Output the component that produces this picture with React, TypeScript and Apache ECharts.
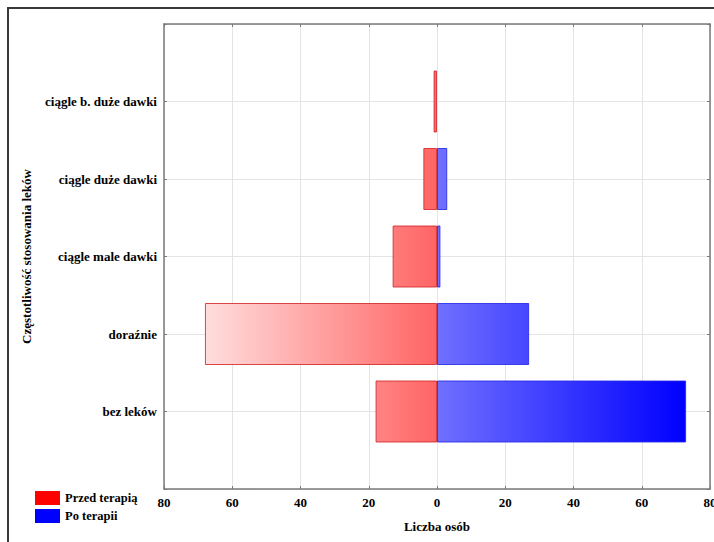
import React, { useEffect, useRef } from "react";
import * as echarts from "echarts";

// Categories bottom to top, as they sit on the vertical axis
const categories = [
  "bez leków",
  "doraźnie",
  "ciągle male dawki",
  "ciągle duże dawki",
  "ciągle b. duże dawki",
];
const przedTerapia = [18, 68, 13, 4, 1];
const poTerapii = [73, 27, 1, 3, 0];
const xTicks = { min: -80, max: 80, step: 20 };

const FONT = "'Liberation Serif', 'Times New Roman', serif";

export default function App() {
  const ref = useRef<HTMLDivElement>(null);

  useEffect(() => {
    if (!ref.current) return;
    document.body.style.margin = "0";
    document.body.style.overflow = "hidden";
    const chart = echarts.init(ref.current, null, { renderer: "svg", width: 714, height: 542 });

    // empty slots at both ends keep the bands spaced like the frame
    const axisData = ["", ...categories, ""];
    const przedData = ["-", ...przedTerapia.map((v) => -v), "-"];
    const poData = [
      "-",
      ...poTerapii.map((v) => (v === 0 ? { value: v, itemStyle: { borderWidth: 0 } } : v)),
      "-",
    ];

    const frameLine = { show: true, onZero: false, lineStyle: { color: "#7a7a7a", width: 1.5 } };
    const innerTick = { show: true, inside: true, length: 3, lineStyle: { color: "#7a7a7a" } };
    const labelFont = { fontFamily: FONT, fontWeight: "bold" as const, fontSize: 13, color: "#000" };

    const base: any = {
      animation: false,
      backgroundColor: "#fff",
      grid: {
        left: 164,
        right: 4,
        top: 24,
        bottom: 53,
        containLabel: false,
        outerBoundsMode: "none",
      },
      legend: {
        orient: "vertical",
        left: 35,
        top: 491,
        itemWidth: 25,
        itemHeight: 14,
        itemGap: 4,
        icon: "rect",
        selectedMode: false,
        padding: 0,
        textStyle: { ...labelFont, fontSize: 12.5, padding: [0, 0, 0, 0] },
        data: [
          { name: "Przed terapią", itemStyle: { color: "#ff0000", borderWidth: 0 } },
          { name: "Po terapii", itemStyle: { color: "#0000ff", borderWidth: 0 } },
        ],
      },
      xAxis: [
        {
          type: "value",
          min: xTicks.min,
          max: xTicks.max,
          interval: xTicks.step,
          position: "bottom",
          axisLine: frameLine,
          axisTick: innerTick,
          axisLabel: { ...labelFont, margin: 7, formatter: (v: number) => String(Math.abs(v)) },
          splitLine: { show: true, lineStyle: { color: "#e4e4e4", width: 1 } },
          name: "Liczba osób",
          nameLocation: "middle",
          nameGap: 31,
          nameTextStyle: labelFont,
        },
        {
          type: "value",
          min: xTicks.min,
          max: xTicks.max,
          interval: xTicks.step,
          position: "top",
          axisLine: frameLine,
          axisTick: innerTick,
          axisLabel: { show: false },
          splitLine: { show: false },
        },
      ],
      yAxis: [
        {
          type: "category",
          data: axisData,
          boundaryGap: false,
          position: "left",
          axisLine: frameLine,
          axisTick: { ...innerTick, alignWithLabel: true },
          axisLabel: { ...labelFont, margin: 7, interval: 0 },
          splitLine: { show: true, lineStyle: { color: "#e4e4e4", width: 1 } },
          name: "Częstotliwość stosowania leków",
          nameLocation: "middle",
          nameGap: 131,
          nameTextStyle: labelFont,
        },
        {
          type: "category",
          data: axisData,
          boundaryGap: false,
          position: "right",
          axisLine: frameLine,
          axisTick: innerTick,
          axisLabel: { show: false },
          splitLine: { show: false },
        },
      ],
      graphic: [
        {
          type: "rect",
          shape: { x: 8, y: 8, width: 800, height: 700 },
          style: { fill: "none", stroke: "#3a3a3a", lineWidth: 2 },
          silent: true,
          z: 100,
        },
      ],
      series: [
        {
          name: "Przed terapią",
          type: "bar",
          data: przedData,
          barWidth: "80%",
          barGap: "-100%",
          itemStyle: { color: "#ff6464", borderColor: "rgba(210,40,40,0.85)", borderWidth: 1 },
        },
        {
          name: "Po terapii",
          type: "bar",
          data: poData,
          barWidth: "80%",
          barGap: "-100%",
          itemStyle: { color: "#7070ff", borderColor: "rgba(40,40,230,0.85)", borderWidth: 1 },
        },
      ],
    };
    chart.setOption(base);

    // colour runs with position along the value axis, shared by all bars
    const px = (v: number) => chart.convertToPixel({ xAxisIndex: 0 }, v) as number;
    const x0 = px(0);
    const redGrad = new echarts.graphic.LinearGradient(
      px(xTicks.min), 0, x0, 0,
      [
        { offset: 0, color: "rgb(255,243,243)" },
        { offset: 1, color: "rgb(255,100,100)" },
      ],
      true
    );
    const blueGrad = new echarts.graphic.LinearGradient(
      x0, 0, px(xTicks.max), 0,
      [
        { offset: 0, color: "rgb(112,112,255)" },
        { offset: 0.91, color: "rgb(0,0,255)" },
        { offset: 1, color: "rgb(0,0,255)" },
      ],
      true
    );
    chart.setOption({
      series: [
        { name: "Przed terapią", itemStyle: { color: redGrad } },
        { name: "Po terapii", itemStyle: { color: blueGrad } },
      ],
    });

    return () => chart.dispose();
  }, []);

  return (
    <div
      ref={ref}
      style={{ position: "fixed", left: 0, top: 0, width: 714, height: 542 }}
    />
  );
}
